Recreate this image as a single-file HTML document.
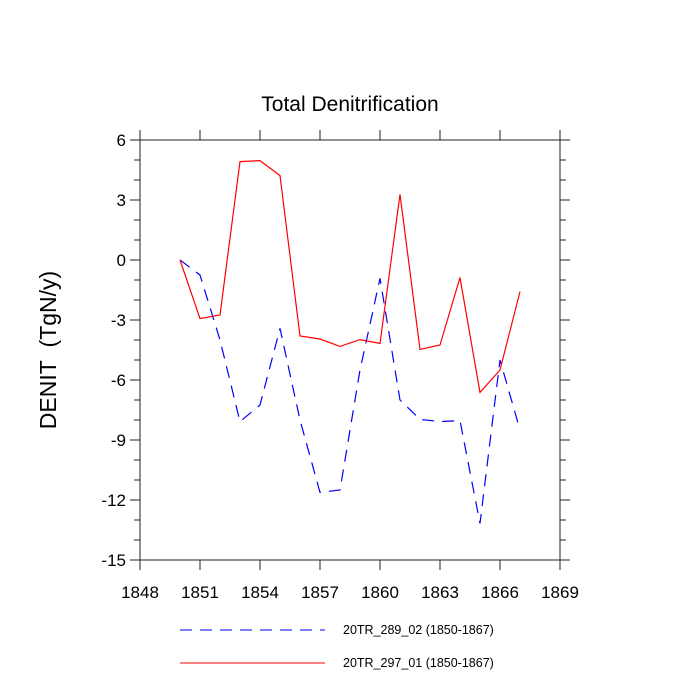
<!DOCTYPE html>
<html><head><meta charset="utf-8"><style>
body{margin:0;background:#fff}
svg{display:block;font-family:"Liberation Sans",sans-serif}
</style></head><body>
<svg id="c" width="700" height="700"></svg>
<script>
const years=[1850,1851,1852,1853,1854,1855,1856,1857,1858,1859,1860,1861,1862,1863,1864,1865,1866,1867];
const red297=[0,-2.93,-2.75,4.92,4.97,4.22,-3.8,-3.95,-4.32,-3.98,-4.17,3.28,-4.47,-4.25,-0.88,-6.62,-5.5,-1.58];
const blue289=[0,-0.75,-4.0,-8.08,-7.25,-3.42,-8.0,-11.62,-11.5,-5.5,-0.92,-7.0,-7.97,-8.08,-8.03,-13.17,-5.0,-8.5];
const xTicks=[1848,1851,1854,1857,1860,1863,1866,1869];
const yTicks=[6,3,0,-3,-6,-9,-12,-15];
const NS="http://www.w3.org/2000/svg";
const svg=document.getElementById('c');
const L=140,R=560,T=140,B=560;
const xS=v=>L+(v-1848)/(1869-1848)*(R-L);
const yS=v=>T+(6-v)/(21)*(B-T);
function mk(t,a,txt){const e=document.createElementNS(NS,t);for(const k in a)e.setAttribute(k,a[k]);if(txt!==undefined)e.textContent=txt;svg.appendChild(e);return e;}
let e;
e=mk('text',{x:350,y:111,'text-anchor':'middle','font-size':21},'Total Denitrification');


e=mk('text',{transform:'translate(56,350) rotate(-90)','text-anchor':'middle','font-size':23},'DENIT\u00a0 (TgN/y)');


e=mk('rect',{x:L,y:T,width:R-L,height:B-T,fill:'none',stroke:'#222','stroke-width':1});


for(const t of xTicks){const x=xS(t);
 mk('line',{x1:x,x2:x,y1:B,y2:B+10,stroke:'#222'});
 mk('line',{x1:x,x2:x,y1:T,y2:T-10,stroke:'#222'});
 e=mk('text',{x:x,y:598,'text-anchor':'middle','font-size':17},t);
 
 
}
for(let v=-15;v<=6;v++){const y=yS(v);const maj=(v%3===0);const len=maj?10:6;
 mk('line',{x1:L,x2:L-len,y1:y,y2:y,stroke:'#222'});
 mk('line',{x1:R,x2:R+len,y1:y,y2:y,stroke:'#222'});
}
for(const t of yTicks){
 e=mk('text',{x:126,y:yS(t)+6,'text-anchor':'end','font-size':17},t);
 
 
}
function line(vals,color,dash,name){
 const d=vals.map((v,i)=>(i?'L':'M')+xS(years[i])+','+yS(v)).join(' ');
 const p=mk('path',{d:d,fill:'none',stroke:color,'stroke-width':1.2});
 if(dash)p.setAttribute('stroke-dasharray',dash);
 
 
}
line(blue289,'#0000ff','12,8','series-20tr-289-02');
line(red297,'#ff0000',null,'series-20tr-297-01');
e=mk('line',{x1:180,x2:325,y1:630,y2:630,stroke:'#0000ff','stroke-dasharray':'12,8'});


e=mk('text',{x:343,y:634,'font-size':12.5},'20TR_289_02 (1850-1867)');


e=mk('line',{x1:180,x2:325,y1:663,y2:663,stroke:'#ff0000'});


e=mk('text',{x:343,y:667,'font-size':12.5},'20TR_297_01 (1850-1867)');


</script>
</body></html>
